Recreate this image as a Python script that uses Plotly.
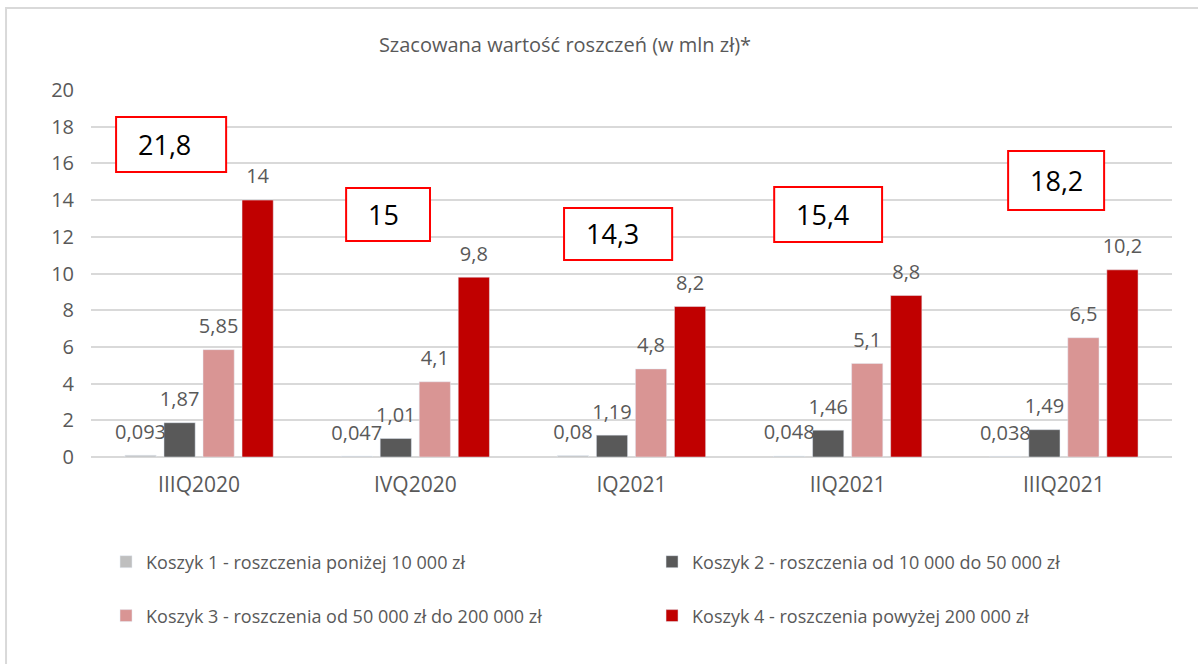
import plotly.graph_objects as go

categories = ["IIIQ2020", "IVQ2020", "IQ2021", "IIQ2021", "IIIQ2021"]
series_names = [
    "Koszyk 1 - roszczenia poniżej 10 000 zł",
    "Koszyk 2 - roszczenia od 10 000 do 50 000 zł",
    "Koszyk 3 - roszczenia od 50 000 zł do 200 000 zł",
    "Koszyk 4 - roszczenia powyżej 200 000 zł",
]
koszyk1 = [0.093, 0.047, 0.08, 0.048, 0.038]
koszyk2 = [1.87, 1.01, 1.19, 1.46, 1.49]
koszyk3 = [5.85, 4.1, 4.8, 5.1, 6.5]
koszyk4 = [14, 9.8, 8.2, 8.8, 10.2]
totals = [21.8, 15, 14.3, 15.4, 18.2]
y_ticks = [0, 2, 4, 6, 8, 10, 12, 14, 16, 18, 20]

colors = ["#bfbfbf", "#595959", "#d99594", "#c00000"]
series = [koszyk1, koszyk2, koszyk3, koszyk4]

# layout of the red total boxes (axis units: category index offset, value)
box_x0 = [-0.384, -0.320, -0.312, -0.340, -0.258]
box_x1 = [0.125, 0.068, 0.188, 0.159, 0.186]
box_y0 = [15.53, 11.77, 10.74, 11.72, 13.46]
box_y1 = [18.53, 14.66, 13.57, 14.71, 16.68]

# legend placement (paper coords), one legend per entry: 2 columns x 2 rows
legend_ids = ["legend", "legend2", "legend3", "legend4"]
legend_x = [0.0139, 0.519, 0.0139, 0.519]
legend_y = [-0.286, -0.286, -0.433, -0.433]


def fmt(v):
    return f"{v:g}".replace(".", ",")


FONT = "Open Sans"
GRAY = "#595959"
BARGAP = 0.278
W, H = 1198, 664

fig = go.Figure()
for i, (name, vals, col) in enumerate(zip(series_names, series, colors)):
    fig.add_trace(go.Bar(
        x=categories, y=vals, name=name, marker_color=col,
        legend=legend_ids[i],
    ))
for i, (vals, col) in enumerate(zip(series, colors)):
    fig.add_trace(go.Scatter(
        x=categories, y=vals, mode="markers+text",
        text=[fmt(v) for v in vals], textposition="top center",
        textfont=dict(family=FONT, size=20, color=GRAY),
        marker=dict(size=17, opacity=0, color=col),
        showlegend=False, hoverinfo="skip",
    ))

for i, t in enumerate(totals):
    fig.add_shape(type="rect", xref="x", yref="y",
                  x0=i + box_x0[i], x1=i + box_x1[i], y0=box_y0[i], y1=box_y1[i],
                  line=dict(color="#ff0000", width=2), fillcolor="white", layer="above")
    fig.add_annotation(xref="x", yref="y", x=i + box_x0[i] + 0.0925,
                       y=(box_y0[i] + box_y1[i]) / 2, text=fmt(t), showarrow=False,
                       xanchor="left", yanchor="middle",
                       font=dict(family=FONT, size=27, color="black"))

# outer frame
fig.add_shape(type="rect", xref="paper", yref="paper",
              x0=-0.0786, x1=1.05, y0=-0.7, y1=1.2234,
              line=dict(color="#d9d9d9", width=2), fillcolor="rgba(0,0,0,0)", layer="below")

legend_layout = {}
for lid, lx, ly in zip(legend_ids, legend_x, legend_y):
    legend_layout[lid] = dict(orientation="h", x=lx, xanchor="left", y=ly, yanchor="middle",
                              font=dict(family=FONT, size=18, color=GRAY),
                              bgcolor="rgba(0,0,0,0)")

fig.update_layout(
    width=W, height=H,
    margin=dict(l=91, r=26, t=90, b=207),
    paper_bgcolor="white", plot_bgcolor="white",
    barmode="group", bargap=BARGAP, bargroupgap=0.2,
    scattermode="group", scattergap=BARGAP,
    title=dict(text="Szacowana wartość roszczeń (w mln zł)*",
               x=565 / W, xanchor="center", xref="container",
               y=1 - 45 / H, yanchor="middle", yref="container",
               font=dict(family=FONT, size=20, color=GRAY)),
    font=dict(family=FONT, color=GRAY),
    showlegend=True,
    **legend_layout,
)
fig.update_xaxes(showgrid=False, showline=False, ticks="", ticklabelstandoff=13,
                 tickfont=dict(family=FONT, size=21, color=GRAY), fixedrange=True)
fig.update_yaxes(range=[0, 20], tickvals=y_ticks, showgrid=True, gridcolor="#d9d9d9",
                 gridwidth=1.5, zeroline=True, zerolinecolor="#d9d9d9", zerolinewidth=1.5,
                 ticks="", ticklabelstandoff=16,
                 tickfont=dict(family=FONT, size=20, color=GRAY), fixedrange=True)

fig.write_html("out.html", config={"displayModeBar": False},
               post_script="document.body.style.margin='0';")
